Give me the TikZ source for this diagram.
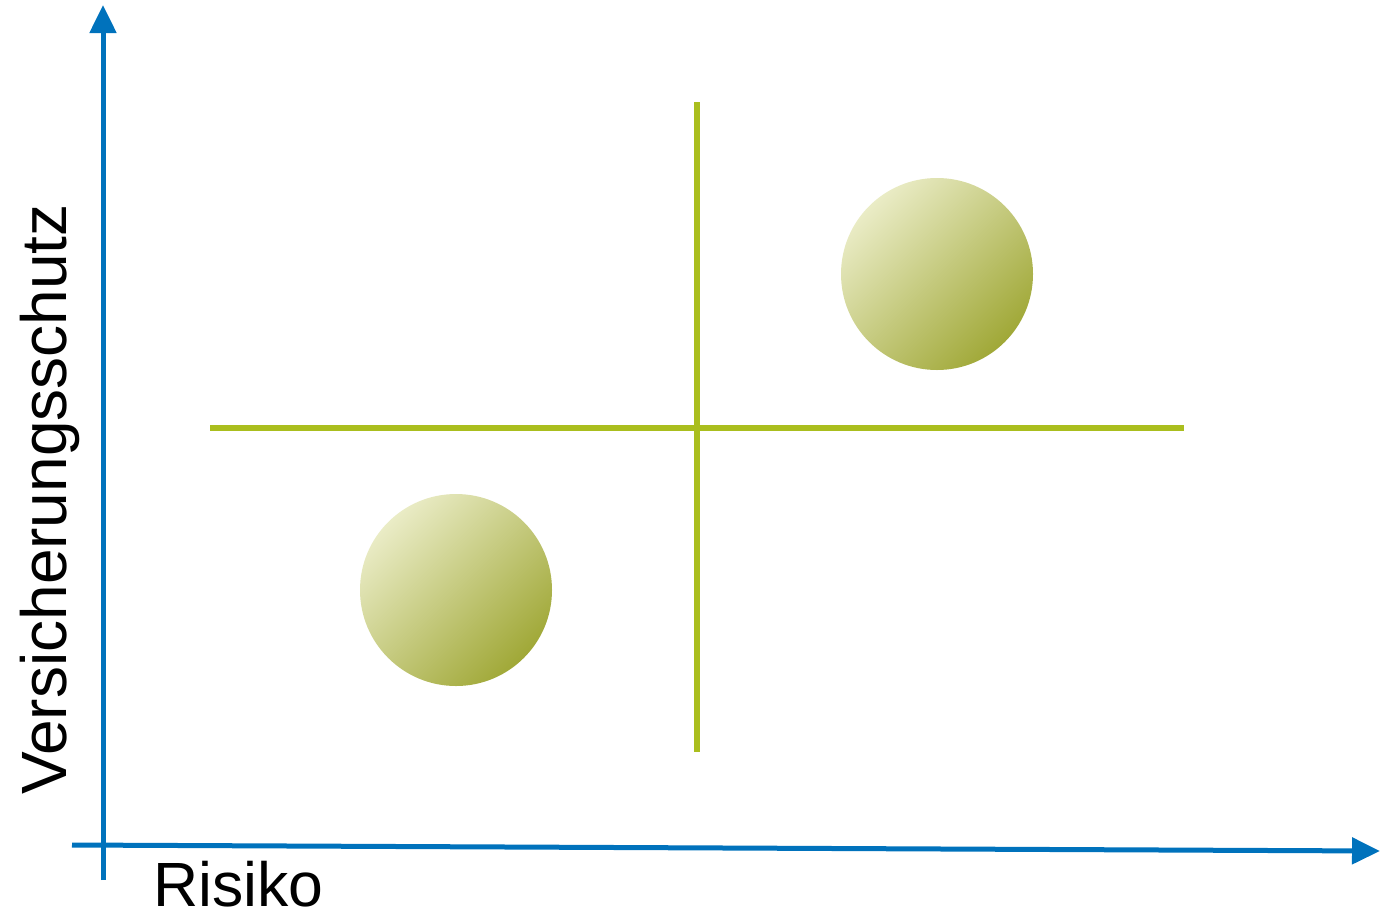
\documentclass[tikz,border=0pt]{standalone}
\usepackage{fontspec}
\setmainfont{Liberation Sans}
\usetikzlibrary{arrows.meta}
\definecolor{axisblue}{RGB}{0,114,188}
\definecolor{quadgreen}{RGB}{170,190,30}
\definecolor{balllight}{RGB}{234,236,198}
\definecolor{balldark}{RGB}{160,168,55}
\tikzset{
  axis/.style={draw=axisblue, line width=5pt, -{Triangle[length=28pt,width=26pt]}},
  quad/.style={draw=quadgreen, line width=6pt},
  ball/.style={circle, minimum size=192pt, inner sep=0pt, top color=balllight, bottom color=balldark, shading angle=45},
  lbl/.style={inner sep=0pt, text depth=0pt}
}
\begin{document}
\begin{tikzpicture}[x=1pt,y=-1pt]
\useasboundingbox (0,0) rectangle (1380,916);
\coordinate (ys) at (103,880);
\coordinate (ye) at (103,5);
\coordinate (xs) at (72,845);
\coordinate (xe) at (1380,851);
\draw[axis] (ys) -- (ye);
\draw[axis] (xs) -- (xe);
\coordinate (vt) at (697,102);
\coordinate (vb) at (697,752);
\coordinate (hl) at (210,428);
\coordinate (hr) at (1184,428);
\draw[quad] (vt) -- (vb);
\draw[quad] (hl) -- (hr);
\node[ball] (b1) at (937,274) {};
\node[ball] (b2) at (456,590) {};
\node[lbl, anchor=base west, font=\fontsize{62.5}{62.5}\selectfont] (risk) at (153,906) {Risiko};
\node[lbl, anchor=base west, rotate=90, font=\fontsize{64}{64}\selectfont] (vs) at (66,795) {Versicherungsschutz};
\end{tikzpicture}
\end{document}
